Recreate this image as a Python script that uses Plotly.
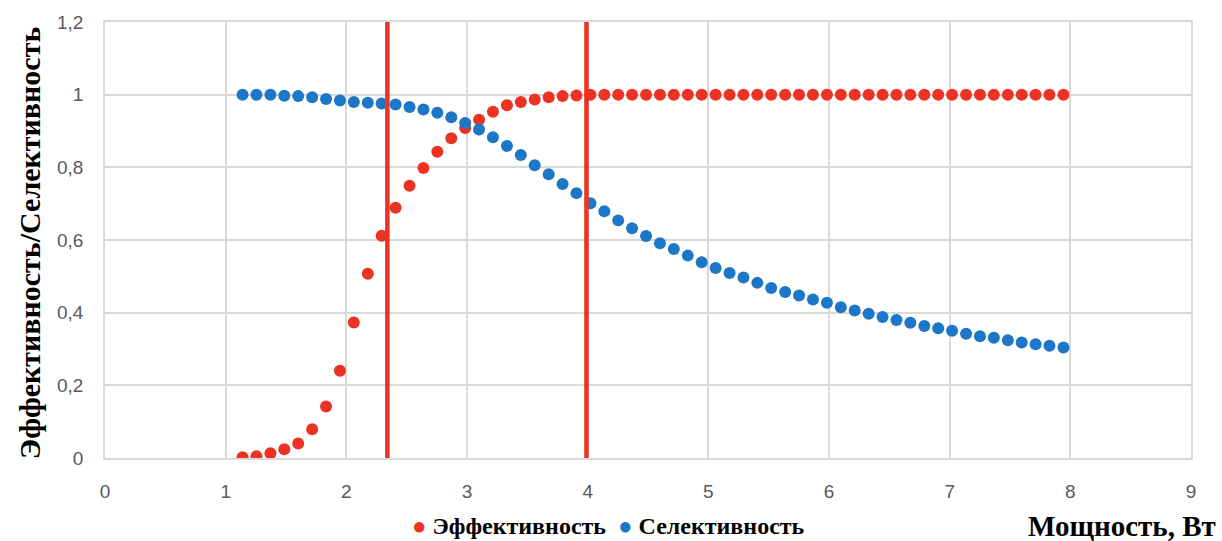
import plotly.graph_objects as go

# Power, W
power = [1.140, 1.255, 1.371, 1.486, 1.601, 1.717, 1.832, 1.947, 2.062, 2.178,
         2.293, 2.408, 2.524, 2.639, 2.754, 2.870, 2.985, 3.100, 3.215, 3.331,
         3.446, 3.561, 3.677, 3.792, 3.907, 4.023, 4.138, 4.253, 4.368, 4.484,
         4.599, 4.714, 4.830, 4.945, 5.060, 5.176, 5.291, 5.406, 5.521, 5.637,
         5.752, 5.867, 5.983, 6.098, 6.213, 6.329, 6.444, 6.559, 6.674, 6.790,
         6.905, 7.020, 7.136, 7.251, 7.366, 7.482, 7.597, 7.712, 7.827, 7.943]

efficiency = [0.002, 0.005, 0.013, 0.024, 0.040, 0.079, 0.142, 0.240, 0.373, 0.507,
              0.612, 0.689, 0.749, 0.798, 0.843, 0.880, 0.908, 0.931, 0.953, 0.971,
              0.980, 0.987, 0.993, 0.996, 0.998, 1.000, 1.000, 1.000, 1.000, 1.000,
              1.000, 1.000, 1.000, 1.000, 1.000, 1.000, 1.000, 1.000, 1.000, 1.000,
              1.000, 1.000, 1.000, 1.000, 1.000, 1.000, 1.000, 1.000, 1.000, 1.000,
              1.000, 1.000, 1.000, 1.000, 1.000, 1.000, 1.000, 1.000, 1.000, 1.000]

selectivity = [1.000, 1.000, 1.000, 0.997, 0.996, 0.993, 0.988, 0.984, 0.980, 0.978,
               0.976, 0.973, 0.966, 0.959, 0.950, 0.938, 0.922, 0.904, 0.883, 0.859,
               0.834, 0.806, 0.781, 0.754, 0.729, 0.701, 0.679, 0.654, 0.632, 0.611,
               0.591, 0.575, 0.557, 0.539, 0.523, 0.509, 0.497, 0.482, 0.468, 0.457,
               0.447, 0.436, 0.427, 0.415, 0.406, 0.397, 0.388, 0.380, 0.372, 0.363,
               0.357, 0.350, 0.342, 0.335, 0.331, 0.324, 0.318, 0.313, 0.309, 0.304]

# Boundaries of the working range (vertical markers)
boundaries = [2.34, 3.99]
boundary_span = [0, 1.2]

x_ticks = [0, 1, 2, 3, 4, 5, 6, 7, 8, 9]
y_ticks = [0, 0.2, 0.4, 0.6, 0.8, 1.0, 1.2]
y_tick_text = ["0", "0,2", "0,4", "0,6", "0,8", "1", "1,2"]

RED = "#EC3323"
BLUE = "#1C77C8"
GRID = "#D9D9D9"
TICK_FONT = dict(family="Liberation Sans, Arial, sans-serif", size=19, color="#595959")
SERIF = "Liberation Serif, Times New Roman, serif"

fig = go.Figure()

fig.add_trace(go.Scatter(x=power, y=efficiency, mode="markers", name="Эффективность",
                         marker=dict(size=12, color=RED), showlegend=False))
fig.add_trace(go.Scatter(x=power, y=selectivity, mode="markers", name="Селективность",
                         marker=dict(size=12, color=BLUE), showlegend=False))

for b in boundaries:
    fig.add_trace(go.Scatter(x=[b, b], y=boundary_span, mode="lines",
                             line=dict(color=RED, width=4.5), showlegend=False,
                             hoverinfo="skip"))

fig.update_layout(
    width=1222, height=541,
    margin=dict(l=105, r=31, t=20, b=83),
    plot_bgcolor="white", paper_bgcolor="white",
    xaxis=dict(range=[0, 9], tickvals=x_ticks, showgrid=True, gridcolor=GRID,
               gridwidth=1.5, showline=True, linecolor=GRID, linewidth=1.5,
               mirror=True, zeroline=False, tickfont=TICK_FONT,
               ticklabelstandoff=15),
    yaxis=dict(range=[0, 1.2], tickvals=y_ticks, ticktext=y_tick_text,
               showgrid=True, gridcolor=GRID, gridwidth=1.5, showline=True,
               linecolor=GRID, linewidth=1.5, mirror=True, zeroline=False,
               tickfont=TICK_FONT, ticklabelstandoff=16),
    annotations=[
        dict(text="<b>Эффективность/Селективность</b>", xref="paper", yref="paper",
             x=-0.070, y=0.495, textangle=-90, showarrow=False,
             xanchor="center", yanchor="middle",
             font=dict(family=SERIF, size=30, color="black")),
        dict(text="<b>Мощность, Вт</b>", xref="paper", yref="paper",
             x=1.025, y=-0.155, showarrow=False, xanchor="right", yanchor="middle",
             font=dict(family=SERIF, size=29, color="black")),
        dict(text=(f"<span style='color:{RED}'>●</span> <b>Эффективность</b>  "
                   f"<span style='color:{BLUE}'>●</span> <b>Селективность</b>"),
             xref="paper", yref="paper", x=0.464, y=-0.155, showarrow=False,
             xanchor="center", yanchor="middle",
             font=dict(family=SERIF, size=24, color="black")),
    ],
)

fig.write_html("out.html")
